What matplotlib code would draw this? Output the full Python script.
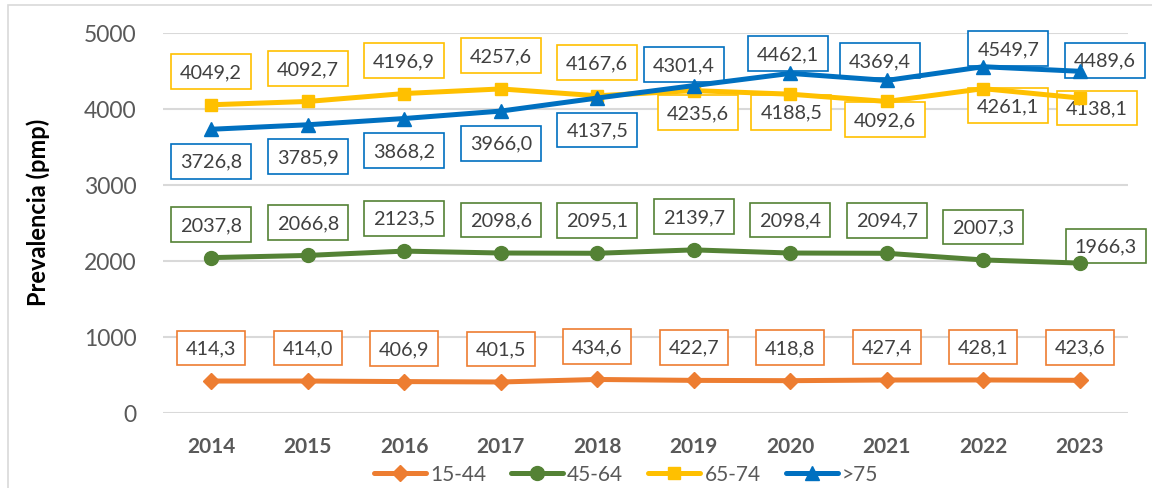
import numpy as np
import matplotlib.pyplot as plt
from matplotlib.patches import Rectangle
from matplotlib.lines import Line2D

plt.rcParams['font.family'] = ['Lato', 'DejaVu Sans']

# Data
years = ['2014', '2015', '2016', '2017', '2018', '2019', '2020', '2021', '2022', '2023']
age_groups = ['15-44', '45-64', '65-74', '>75']
prev_15_44 = [414.3, 414.0, 406.9, 401.5, 434.6, 422.7, 418.8, 427.4, 428.1, 423.6]
prev_45_64 = [2037.8, 2066.8, 2123.5, 2098.6, 2095.1, 2139.7, 2098.4, 2094.7, 2007.3, 1966.3]
prev_65_74 = [4049.2, 4092.7, 4196.9, 4257.6, 4167.6, 4235.6, 4188.5, 4092.6, 4261.1, 4138.1]
prev_75 = [3726.8, 3785.9, 3868.2, 3966.0, 4137.5, 4301.4, 4462.1, 4369.4, 4549.7, 4489.6]

# Styling
colors = ['#ED7D31', '#548235', '#FFC000', '#0070C0']
markers = ['D', 'o', 's', '^']
msizes = [8, 10, 9, 10]
text_col = '#404040'
tick_col = '#595959'
grid_col = '#D9D9D9'

# label offsets in pixels (dx right, dy down), per series
off_15_44 = [(0, -33)] * 10
off_45_64 = [(0, -33)] * 9 + [(26, -17)]
off_65_74 = [(0, -33)] * 5 + [(4, 22), (1, 18), (-2, 18), (25, 17), (17, 10)]
off_75 = [(0, 32)] * 5 + [(-10, -21), (-2, -20), (-7, -20), (25, -18), (25, -11)]

series = [prev_15_44, prev_45_64, prev_65_74, prev_75]
offsets = [off_15_44, off_45_64, off_65_74, off_75]

W, H, DPI = 1152, 489, 100
fig = plt.figure(figsize=(W / DPI, H / DPI), dpi=DPI)
ax = fig.add_axes([163 / W, 1 - 413.5 / H, (1128 - 163) / W, (413.5 - 33.5) / H])

x = np.arange(len(years))
px2pt = 72 / DPI

handles = []
for vals, name, c, m, ms, offs in zip(series, age_groups, colors, markers, msizes, offsets):
    ln, = ax.plot(x, vals, color=c, lw=3.6, marker=m, ms=ms, zorder=4,
                  solid_capstyle='round', label=name)
    handles.append(ln)
    for xi, v, (dx, dy) in zip(x, vals, offs):
        ax.annotate(f'{v:.1f}'.replace('.', ','), (xi, v),
                    xytext=(dx * px2pt, -dy * px2pt), textcoords='offset points',
                    ha='center', va='center', fontsize=14.3, color=text_col,
                    zorder=3, annotation_clip=False,
                    bbox=dict(boxstyle='square,pad=0.45', fc='white', ec=c, lw=1.2))

ax.set_xlim(-0.5, 9.5)
ax.set_ylim(0, 5000)
ax.set_yticks(np.arange(0, 5001, 1000))
ax.set_xticks(x)
ax.set_xticklabels(years, fontweight='bold')
ax.tick_params(axis='y', length=0, pad=19, labelsize=16.5, labelcolor=tick_col)
ax.tick_params(axis='x', length=0, pad=17, labelsize=15, labelcolor=tick_col)
ax.grid(axis='y', color=grid_col, lw=1.5, zorder=0)
ax.set_axisbelow(True)
for s in ax.spines.values():
    s.set_visible(False)

fig.text(38 / W, 1 - 212 / H, 'Prevalencia (pmp)', rotation=90, ha='center', va='center',
         fontsize=17, fontweight='bold', color='black')

fig.legend(handles=handles, loc='center', bbox_to_anchor=(626 / W, 1 - 475 / H),
           ncol=4, frameon=False, fontsize=15, labelcolor=tick_col,
           handlelength=2.5, handletextpad=0.2, columnspacing=1.2, borderpad=0)

fig.add_artist(Rectangle((7.5 / W, -0.05), 1.1, 1.05 - 6 / H, transform=fig.transFigure,
                         fill=False, ec=grid_col, lw=1.2))

fig.savefig('out.png', dpi=DPI)
